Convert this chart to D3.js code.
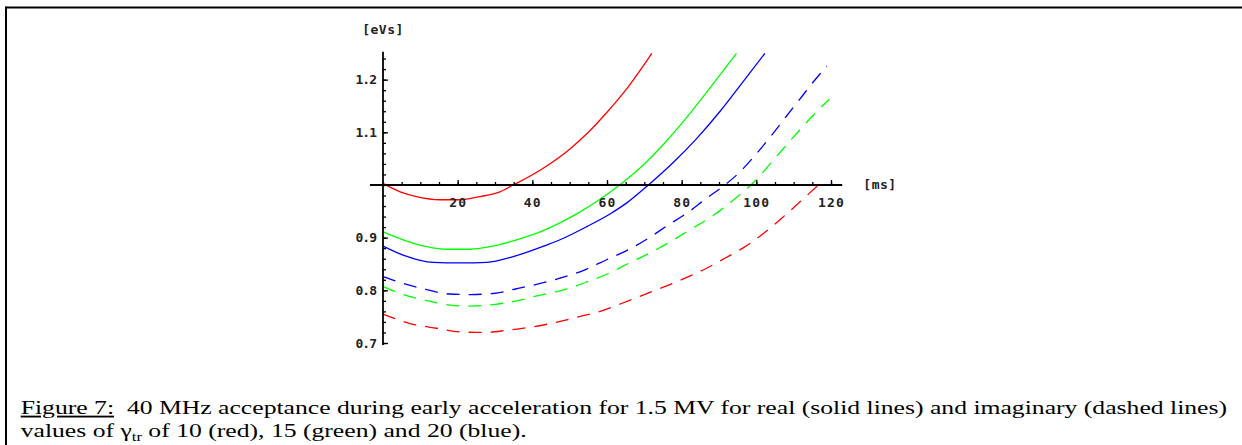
<!DOCTYPE html>
<html lang="en">
<head>
<meta charset="UTF-8" />
<script src="https://d3js.org/d3.v7.min.js"></script>
<title>Figure 7</title>
<style>
  body { margin: 0; background: #fff; }
  .tick text, .unit { font-family: "DejaVu Sans Mono", "Liberation Mono", monospace; font-size: 13px; font-weight: bold; fill: #222; }
  .xlab .tick text { letter-spacing: 1.2px; }
  .ylab .tick text { letter-spacing: -1px; }
  .unit { letter-spacing: 0.5px; }
  .caption { font-family: "Liberation Serif", "Times New Roman", serif; font-size: 18.5px; fill: #000; }
</style>
</head>
<body>
<script>
const width = 1242, height = 445

// [time (ms), acceptance (eVs)]
const redSolid = [[0, 1.003], [4.6, 0.987], [9, 0.978], [15.3, 0.972], [20.6, 0.972], [26, 0.978], [31.3, 0.987],
  [34.9, 1.0], [42.5, 1.03], [50, 1.068], [55, 1.1], [60, 1.138], [65, 1.18], [72, 1.25]]
const greenSolid = [[0, 0.911], [5.4, 0.896], [11.7, 0.883], [17.1, 0.878], [23.3, 0.878], [29.5, 0.884], [35.8, 0.896],
  [42.1, 0.911], [47.4, 0.928], [52.8, 0.949], [58.1, 0.973], [63.9, 1.003], [70, 1.04], [76, 1.084], [82, 1.134],
  [88, 1.188], [94.7, 1.25]]
const blueSolid = [[0, 0.884], [5.4, 0.867], [13.5, 0.853], [20.6, 0.852], [27.8, 0.853], [34.9, 0.864], [43.8, 0.886],
  [47.4, 0.896], [54.6, 0.921], [60.8, 0.945], [65.3, 0.966], [71.1, 1.0], [77.8, 1.043], [84, 1.088], [90.3, 1.14],
  [96, 1.192], [102.3, 1.25]]
const redDashed = [[0, 0.755], [7.2, 0.737], [14.4, 0.728], [20.6, 0.721], [26.9, 0.72], [33.1, 0.724], [39.4, 0.73],
  [45.6, 0.738], [51.9, 0.749], [57.7, 0.759], [63.9, 0.775], [69.3, 0.79], [75.1, 0.806], [80.9, 0.823], [86.7, 0.842],
  [91.6, 0.861], [97, 0.883], [101.9, 0.908], [106.8, 0.937], [111.7, 0.968], [116.6, 1.0], [117.8, 1.008]]
const greenDashed = [[0, 0.807], [4.6, 0.794], [10.8, 0.782], [17.9, 0.772], [23.3, 0.77], [29.5, 0.773], [35.8, 0.78],
  [42.1, 0.791], [47.4, 0.799], [54.6, 0.816], [60.4, 0.832], [65.7, 0.851], [71.5, 0.871], [76.9, 0.892], [82.2, 0.915],
  [88, 0.94], [93.8, 0.971], [99.7, 1.008], [103.7, 1.04], [107.7, 1.073], [111.2, 1.101], [115.3, 1.133], [119.6, 1.163]]
const blueDashed = [[0, 0.826], [4.6, 0.815], [10.8, 0.803], [17.9, 0.793], [23.3, 0.792], [29.5, 0.794], [35.8, 0.803],
  [42.1, 0.813], [47.4, 0.823], [54.1, 0.839], [59.9, 0.858], [65.7, 0.877], [71.1, 0.899], [76.4, 0.924], [81.3, 0.946],
  [86.7, 0.975], [91.6, 1.0], [95.2, 1.022], [100.1, 1.06], [104.6, 1.099], [108.1, 1.131], [112.2, 1.168], [115.3, 1.196],
  [118.9, 1.226]]

const xMajorTicks = [20, 40, 60, 80, 100, 120]
const xMinorTicks = d3.range(5, 125, 5)
const yMajorTicks = [0.7, 0.8, 0.9, 1.1, 1.2]
const yMinorTicks = d3.range(35, 63).map(i => i * 0.02)

const series = [
  { data: redDashed, color: '#ff0000', dashed: true },
  { data: greenDashed, color: '#00ff00', dashed: true },
  { data: blueDashed, color: '#0000ff', dashed: true },
  { data: redSolid, color: '#ff0000', dashed: false },
  { data: greenSolid, color: '#00ff00', dashed: false },
  { data: blueSolid, color: '#0000ff', dashed: false }
]

const svg = d3.select('body').append('svg').attr('width', width).attr('height', height)

// frame round the figure (top and left edges are visible)
svg.append('line').attr('x1', 6).attr('x2', width).attr('y1', 7.5).attr('y2', 7.5)
  .attr('stroke', '#000').attr('stroke-width', 2)
svg.append('line').attr('x1', 6).attr('x2', 6).attr('y1', 6.5).attr('y2', height)
  .attr('stroke', '#000').attr('stroke-width', 2)

const x = d3.scaleLinear().domain([0, 120]).range([383, 831])
const y = d3.scaleLinear().domain([0.7, 1.25]).range([343, 53.3])

// curves
const line = d3.line().x(d => x(d[0])).y(d => y(d[1])).curve(d3.curveMonotoneX)
svg.append('g').selectAll('path').data(series).enter()
  .append('path')
  .attr('d', d => line(d.data))
  .attr('fill', 'none')
  .attr('stroke', d => d.color)
  .attr('stroke-width', 1.3)
  .attr('stroke-dasharray', d => d.dashed ? '13,9' : null)

// axes cross at (0, 1.0)
const xAxisG = svg.append('g').attr('transform', `translate(0,${y(1)})`)
xAxisG.call(d3.axisBottom(x).tickValues(xMinorTicks).tickSizeInner(-3).tickSizeOuter(0).tickFormat(''))
xAxisG.call(g => g.select('.domain').remove())
const xMajorG = svg.append('g').attr('class', 'xlab').attr('transform', `translate(0,${y(1)})`)
  .call(d3.axisBottom(x).tickValues(xMajorTicks).tickSizeInner(-5).tickSizeOuter(0).tickPadding(13).tickFormat(d3.format('d')))
xMajorG.select('.domain').remove()
svg.append('line').attr('x1', x(-3.5)).attr('x2', x(123)).attr('y1', y(1)).attr('y2', y(1))
  .attr('stroke', '#000').attr('stroke-width', 1.8)

const yAxisG = svg.append('g').attr('transform', `translate(${x(0)},0)`)
yAxisG.call(d3.axisLeft(y).tickValues(yMinorTicks).tickSizeInner(-3).tickSizeOuter(0).tickFormat(''))
yAxisG.call(g => g.select('.domain').remove())
const yMajorG = svg.append('g').attr('class', 'ylab').attr('transform', `translate(${x(0)},0)`)
  .call(d3.axisLeft(y).tickValues(yMajorTicks).tickSizeInner(-5).tickSizeOuter(0).tickPadding(7).tickFormat(d3.format('.1f')))
yMajorG.select('.domain').remove()
svg.append('line').attr('x1', x(0)).attr('x2', x(0)).attr('y1', y(0.696)).attr('y2', y(1.253))
  .attr('stroke', '#000').attr('stroke-width', 1.8)

svg.selectAll('.tick line').attr('stroke', '#000').attr('stroke-width', 1.3)
svg.selectAll('.tick text').attr('font-family', null).attr('font-size', null)

svg.append('text').attr('class', 'unit').attr('x', x(0)).attr('y', 34).attr('text-anchor', 'middle').text('[eVs]')
svg.append('text').attr('class', 'unit').attr('x', 880).attr('y', y(1) + 4).attr('text-anchor', 'middle').text('[ms]')

// caption, stretched horizontally like the scanned original
const cap = svg.append('g').attr('class', 'caption')
const t1 = cap.append('text').attr('x', 0).attr('y', 414)
t1.append('tspan').attr('text-decoration', 'underline').text('Figure 7:')
t1.append('tspan')
  .text('\u00a0 40 MHz acceptance during early acceleration for 1.5 MV for real (solid lines) and imaginary (dashed lines)')
const t2 = cap.append('text').attr('x', 0).attr('y', 437)
t2.append('tspan').text('values of \u03b3')
t2.append('tspan').attr('font-size', 12).attr('dy', 4).text('tr')
t2.append('tspan').attr('dy', -4).text(' of 10 (red), 15 (green) and 20 (blue).')

const natural = t1.node().getComputedTextLength()
const sx = (1228 - 20.7) / natural
t1.attr('transform', `translate(20.7,0) scale(${sx},1)`)
t2.attr('transform', `translate(20.7,0) scale(${sx},1)`)
</script>
</body>
</html>
